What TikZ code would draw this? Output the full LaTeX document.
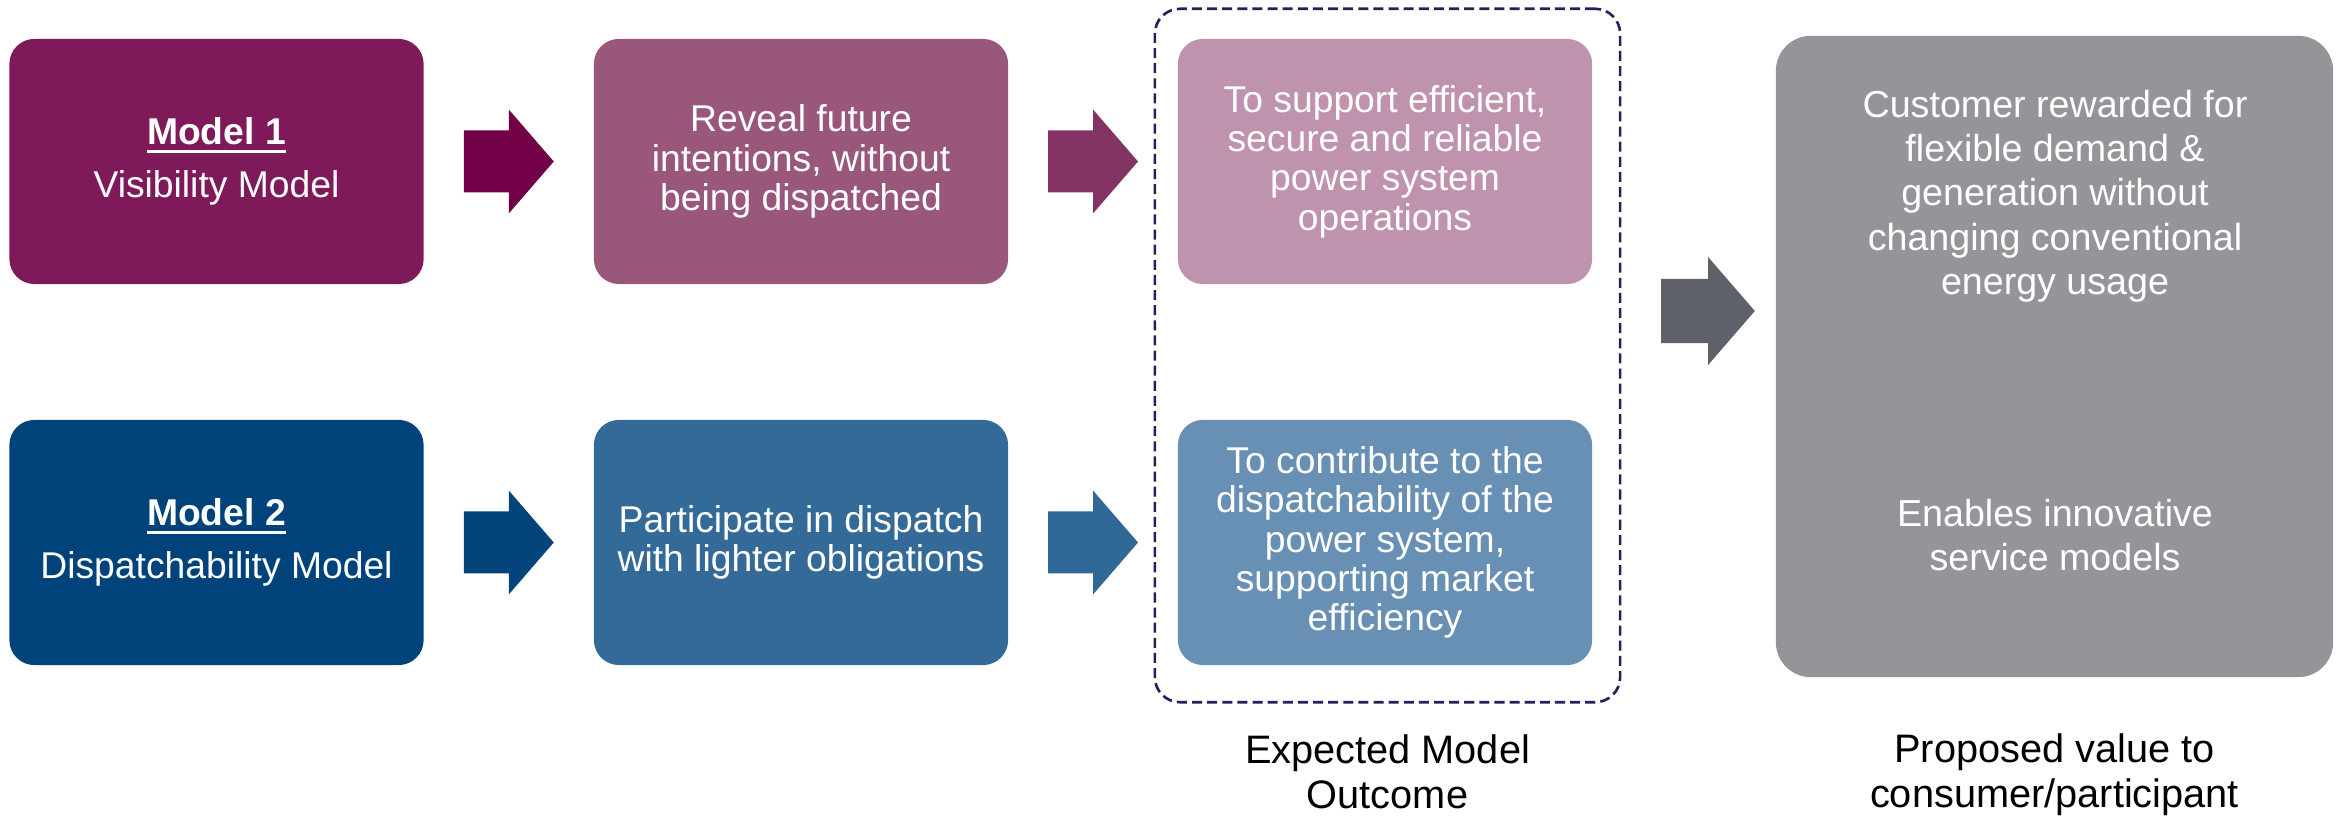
\documentclass[tikz,border=0pt]{standalone}
\usepackage{fontspec}
\setmainfont{Liberation Sans}
\usetikzlibrary{calc}

% palette
\definecolor{plumDeep}{RGB}{127,26,90}
\definecolor{plumArrow}{RGB}{114,0,70}
\definecolor{plumMid}{RGB}{152,87,123}
\definecolor{plumMidArrow}{RGB}{132,52,98}
\definecolor{plumLight}{RGB}{191,147,173}
\definecolor{navyDeep}{RGB}{0,67,122}
\definecolor{navyArrow}{RGB}{3,68,122}
\definecolor{steelMid}{RGB}{52,106,151}
\definecolor{steelMidArrow}{RGB}{48,104,151}
\definecolor{steelLight}{RGB}{103,144,180}
\definecolor{slateArrow}{RGB}{94,96,106}
\definecolor{valueGrey}{RGB}{147,149,153}
\definecolor{frameIndigo}{RGB}{46,26,94}

% bold heading with a heavier underline
\newcommand\modelhead[1]{%
  \setbox0\hbox{\textbf{#1}}%
  \rlap{\rule[-2.4pt]{\wd0}{0.8pt}}\box0}

\tikzset{
  blockarrow/.pic={
    \fill[pic actions] (-45,-31) -- (0,-31) -- (0,-52) -- (45,0)
      -- (0,52) -- (0,31) -- (-45,31) -- cycle;
  }
}

\begin{document}
\begin{tikzpicture}[x=0.01cm,y=-0.01cm,
  card/.style={rounded corners=0.25cm, minimum width=4.14cm,
    minimum height=2.45cm, inner sep=0pt, align=center, text=white,
    font=\fontsize{10.6}{11.2}\selectfont},
  valuetext/.style={align=center, text=white, inner sep=0pt,
    font=\fontsize{10.7}{12.6}\selectfont},
  caption/.style={align=center, text=black, inner sep=0pt,
    font=\fontsize{11.3}{12.8}\selectfont},
  outcomeframe/.style={draw=frameIndigo, line width=0.75pt,
    dash pattern=on 2.85pt off 1.45pt, rounded corners=0.25cm,
    minimum width=4.65cm, minimum height=6.93cm, inner sep=0pt}
]
\useasboundingbox (0,0) rectangle (2343,816);

% dashed frame around the expected outcomes
\node[outcomeframe] (outcome) at (1387.5,355.5) {};

% row 1: visibility model
\node[card, fill=plumDeep] (m1) at (216.5,161.5)
  {\modelhead{Model 1}\\[4pt]Visibility Model};
\node[card, fill=plumMid] (r1) at (801,161.5)
  {Reveal future\\intentions, without\\being dispatched};
\node[card, fill=plumLight] (o1) at (1385,161.5)
  {To support efficient,\\secure and reliable\\power system\\operations};

% row 2: dispatchability model
\node[card, fill=navyDeep] (m2) at (216.5,542.5)
  {\modelhead{Model 2}\\[4pt]Dispatchability Model};
\node[card, fill=steelMid] (r2) at (801,542.5)
  {Participate in dispatch\\with lighter obligations};
\node[card, fill=steelLight] (o2) at (1385,542.5)
  {To contribute to the\\dispatchability of the\\power system,\\supporting market\\efficiency};

% value to the participant
\node[fill=valueGrey, rounded corners=0.35cm, minimum width=5.57cm,
  minimum height=6.41cm, inner sep=0pt] (value) at (2054.5,356.5) {};
\node[valuetext] (valueA) at (2055,196)
  {Customer rewarded for\\flexible demand \&\\generation without\\changing conventional\\energy usage};
\node[valuetext] (valueB) at (2055,535)
  {Enables innovative\\service models};

% block arrows between the stages
\pic[fill=plumArrow] at ($(m1.east)!0.5!(r1.west)$) {blockarrow};
\pic[fill=plumMidArrow] at ($(r1.east)!0.5!(o1.west)$) {blockarrow};
\pic[fill=navyArrow] at ($(m2.east)!0.5!(r2.west)$) {blockarrow};
\pic[fill=steelMidArrow] at ($(r2.east)!0.5!(o2.west)$) {blockarrow};
\coordinate (bigtip) at (1708,311);
\pic[fill=slateArrow, scale=1.04] at (bigtip) {blockarrow};

% captions
\node[caption] (capOutcome) at (outcome.center |- 0,772)
  {Expected Model\\Outcome};
\node[caption] (capValue) at (value.center |- 0,775)
  {Proposed value to\\consumer/participant};
\end{tikzpicture}
\end{document}
